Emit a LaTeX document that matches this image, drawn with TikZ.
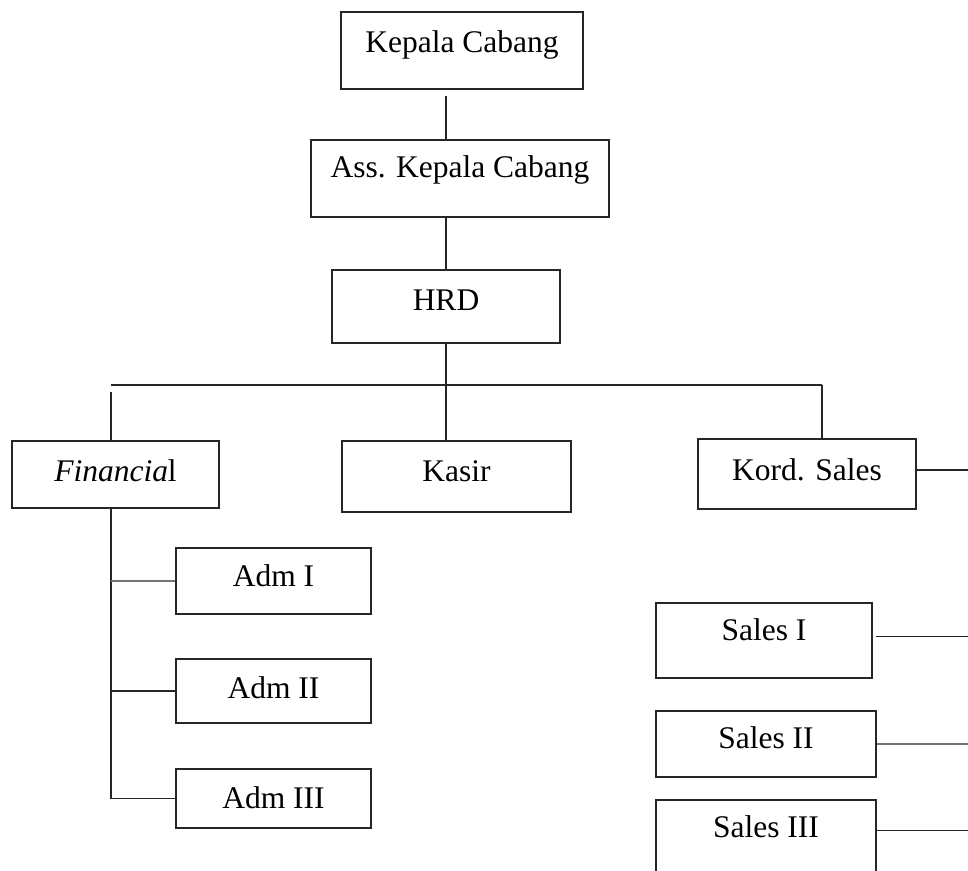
\documentclass[tikz,border=0pt]{standalone}
\usepackage{fontspec}
\setmainfont{Liberation Serif}
\usepackage{tikz}
\tikzstyle{box}=[draw=black!85,line width=1.4pt,rectangle,inner sep=0pt,anchor=base]
\tikzstyle{edge}=[draw=black!85,line width=1.4pt,-]
\tikzstyle{greyedge}=[draw=black!55,line width=1.4pt,-]

\begin{document}
\begin{tikzpicture}[x=1pt,y=-1pt,font=\fontsize{31.5}{36}\selectfont]
        \clip (0,0) rectangle (968,870);
        \node[box,minimum width=242pt,text height=40pt,text depth=37pt] (kc) at (462,52) {Kepala Cabang};
        \node[box,minimum width=298pt,text height=37pt,text depth=40pt] (akc) at (460,177) {Ass. Kepala Cabang};
        \node[box,minimum width=228pt,text height=40pt,text depth=33pt] (hrd) at (446,310) {HRD};
        \node[box,minimum width=207pt,text height=40pt,text depth=27pt] (fin) at (115.5,481) {\textit{Financia}l};
        \node[box,minimum width=229pt,text height=40pt,text depth=31pt] (kas) at (456.5,481) {Kasir};
        \node[box,minimum width=218pt,text height=41pt,text depth=29pt] (kord) at (807,480) {Kord. Sales};
        \node[box,minimum width=195pt,text height=38pt,text depth=28pt] (adm1) at (273.5,586) {Adm I};
        \node[box,minimum width=195pt,text height=39pt,text depth=25pt] (adm2) at (273.5,698) {Adm II};
        \node[box,minimum width=195pt,text height=39pt,text depth=20pt] (adm3) at (273.5,808) {Adm III};
        \node[box,minimum width=216pt,text height=37pt,text depth=38pt] (s1) at (764,640) {Sales I};
        \node[box,minimum width=220pt,text height=37pt,text depth=29pt] (s2) at (766,748) {Sales II};
        \node[box,minimum width=220pt,text height=37pt,text depth=50pt] (s3) at (766,837) {Sales III};
        \coordinate (busL) at (111,385);
        \coordinate (busR) at (822,385);
        \coordinate (rail) at (968,0);
        \draw[edge] ([yshift=-6pt]kc.south -| hrd.south) to (akc.north -| hrd.south);
        \draw[edge] (akc.south -| hrd.south) to (hrd.north);
        \draw[edge] (hrd.south) to (hrd.south |- busL);
        \draw[edge] (busL) to (busR);
        \draw[edge] ([yshift=-7pt]busL) to (busL |- fin.north);
        \draw[edge] (busL -| hrd.south) to (kas.north -| hrd.south);
        \draw[edge] (busR) to (busR |- kord.north);
        \draw[edge] (fin.south -| busL) to (busL |- adm3.west);
        \draw[greyedge] (busL |- adm1.west) to (adm1.west);
        \draw[edge] (busL |- adm2.west) to (adm2.west);
        \draw[edge] (busL |- adm3.west) to (adm3.west);
        \draw[edge] ([yshift=4pt]kord.east) to ([yshift=4pt]kord.east -| rail);
        \draw[edge] ([xshift=3pt,yshift=4pt]s1.east) to ([yshift=4pt]s1.east -| rail);
        \draw[greyedge] (s2.east) to (s2.east -| rail);
        \draw[edge] ([yshift=13pt]s3.east) to ([yshift=13pt]s3.east -| rail);
      \end{tikzpicture}
\end{document}
